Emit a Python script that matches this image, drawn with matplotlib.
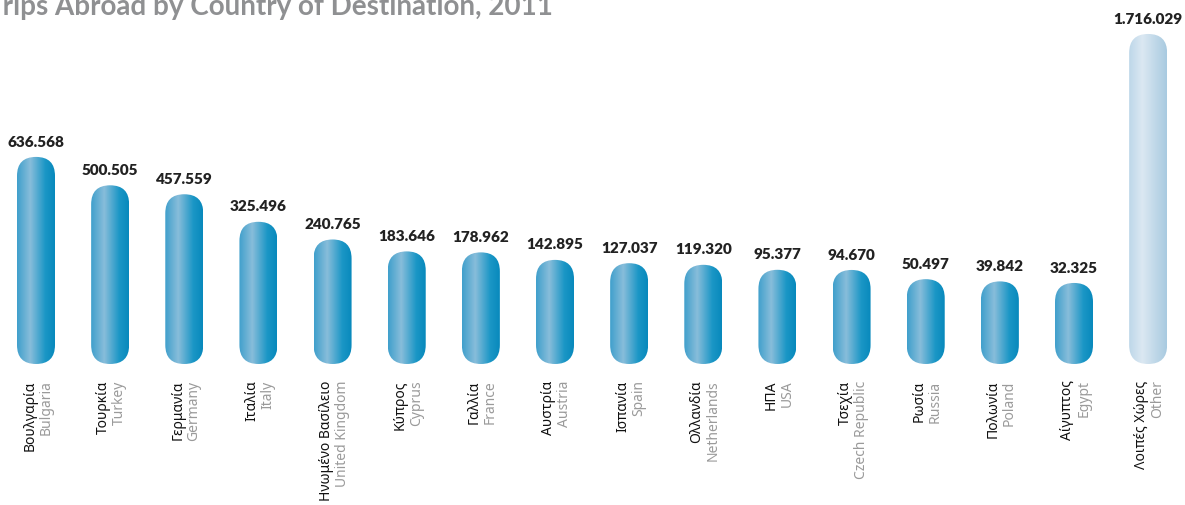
import numpy as np
import matplotlib
matplotlib.use("Agg")
import matplotlib.pyplot as plt
from matplotlib.patches import FancyBboxPatch
from matplotlib.colors import LinearSegmentedColormap

# data
greek = ["Βουλγαρία", "Τουρκία", "Γερμανία", "Ιταλία", "Ηνωμένο Βασίλειο", "Κύπρος",
         "Γαλλία", "Αυστρία", "Ισπανία", "Ολλανδία", "ΗΠΑ", "Τσεχία", "Ρωσία",
         "Πολωνία", "Αίγυπτος", "Λοιπές Χώρες"]
english = ["Bulgaria", "Turkey", "Germany", "Italy", "United Kingdom", "Cyprus",
           "France", "Austria", "Spain", "Netherlands", "USA", "Czech Republic", "Russia",
           "Poland", "Egypt", "Other"]
trips = [636568, 500505, 457559, 325496, 240765, 183646, 178962, 142895, 127037,
         119320, 95377, 94670, 50497, 39842, 32325, 1716029]

plt.rcParams['font.family'] = ['Noto Sans', 'DejaVu Sans']

fig = plt.figure(figsize=(11.85, 5.06), dpi=100)
ax = fig.add_axes([0, 0, 1, 1])
ax.axis('off')

base = -356200      # bars start below zero so short bars stay visible
cap = 1226000       # tallest bar is cut (broken scale)
width = 0.5125
xs = range(len(trips))

blue = LinearSegmentedColormap.from_list("b", [(0, '#3f9fcc'), (0.35, '#88bdda'),
                                               (0.75, '#1a96c6'), (1, '#0889bc')])
pale = LinearSegmentedColormap.from_list("p", [(0, '#bdd7e9'), (0.35, '#dbe8f2'),
                                               (1, '#a8cae0')])
grad = np.linspace(0, 1, 256).reshape(1, -1)

for x, v, g, e in zip(xs, trips, greek, english):
    top = min(v, cap)
    cmap = pale if v > cap else blue
    box = FancyBboxPatch((x - width / 2, base), width, top - base,
                         boxstyle="round,pad=0,rounding_size=%f" % (width / 2),
                         mutation_aspect=355400, fc='none', ec='none')
    ax.add_patch(box)
    im = ax.imshow(grad, cmap=cmap, extent=(x - width / 2, x + width / 2, base, top),
                   aspect='auto', interpolation='bilinear')
    im.set_clip_path(box)
    ax.text(x, top + 45000, f"{v:,}".replace(",", "."), ha='center', va='bottom',
            fontsize=11, fontweight='heavy', color='#222222',
            family=['Lato', 'DejaVu Sans'])
    ax.text(x - 0.085, -430000, g, rotation=90, ha='center', va='top',
            fontsize=10, color='#111111')
    ax.text(x + 0.13, -430000, e, rotation=90, ha='center', va='top',
            fontsize=10, color='#9a9a9a')

ax.set_xlim(-0.4856, 15.497)
ax.set_ylim(-1032200, 1393600)

fig.text(-0.012, 1 - 15 / 506, "Trips Abroad by Country of Destination, 2011", ha='left',
         va='baseline', fontsize=20, fontweight='bold', color='#8f9092',
         family=['Lato', 'DejaVu Sans'])

fig.savefig("out.png", dpi=100)
